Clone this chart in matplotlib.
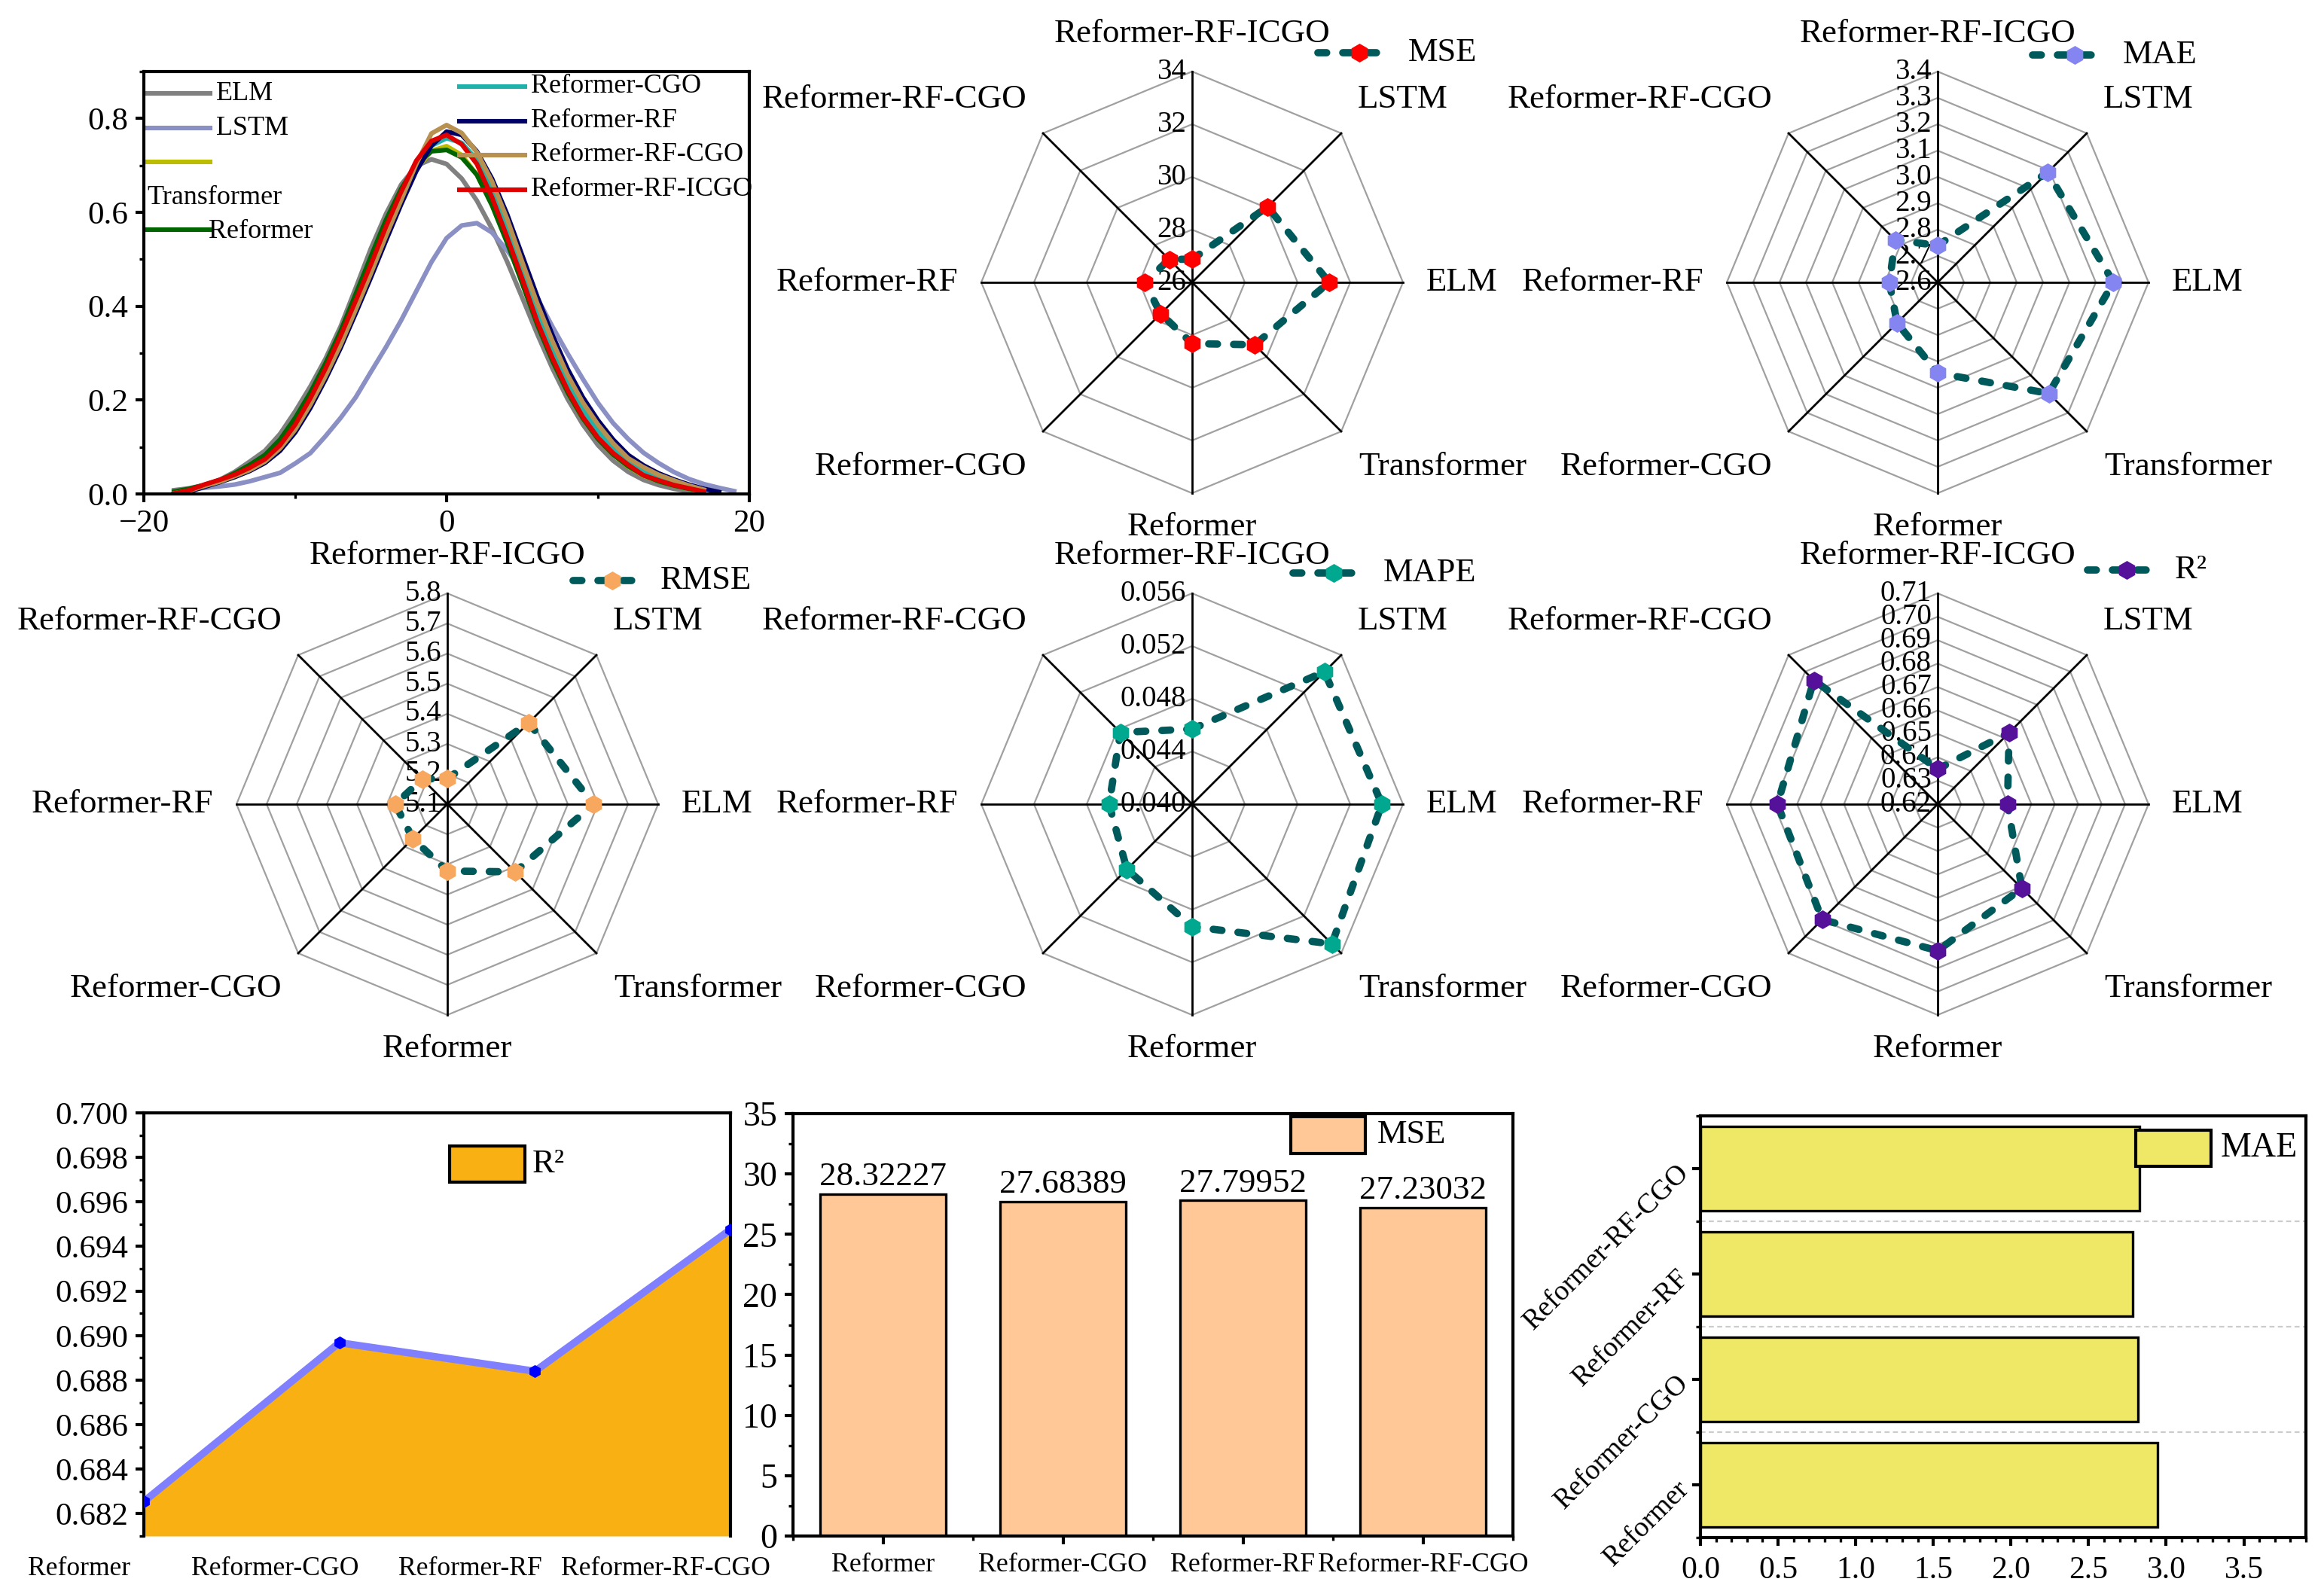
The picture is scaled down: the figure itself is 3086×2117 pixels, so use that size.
import numpy as np
import matplotlib.pyplot as plt
from matplotlib.patches import Rectangle
from matplotlib.ticker import MultipleLocator, FormatStrFormatter

plt.rcParams['font.family'] = ['Liberation Serif', 'DejaVu Serif']
plt.rcParams['axes.linewidth'] = 1.5

# ---------------- data ----------------
models = ['ELM', 'LSTM', 'Transformer', 'Reformer', 'Reformer-CGO',
          'Reformer-RF', 'Reformer-RF-CGO', 'Reformer-RF-ICGO']
# clockwise from the top of every radar
radar_order = ['Reformer-RF-ICGO', 'LSTM', 'ELM', 'Transformer',
               'Reformer', 'Reformer-CGO', 'Reformer-RF', 'Reformer-RF-CGO']
sub_models = ['Reformer', 'Reformer-CGO', 'Reformer-RF', 'Reformer-RF-CGO']

mse = [31.20, 30.05, 29.35, 28.32227, 27.68389, 27.79952, 27.23032, 26.88]
mae = [3.267, 3.190, 3.196, 2.944, 2.818, 2.783, 2.828, 2.740]
rmse = [5.586, 5.482, 5.418, 5.322, 5.262, 5.273, 5.218, 5.185]
mape = [0.0544, 0.0542, 0.0550, 0.0493, 0.0470, 0.0463, 0.0477, 0.0457]
r2 = [0.6498, 0.6631, 0.6708, 0.68255, 0.68968, 0.6884, 0.69476, 0.635]

# error density curves, x = -18 ... 19 (nan = curve ended)
nan = np.nan
err_x = list(range(-18, 20))
dens = {
    'ELM': [0.008, 0.012, 0.019, 0.030, 0.047, 0.069, 0.092, 0.128, 0.176, 0.229,
            0.288, 0.357, 0.439, 0.523, 0.597, 0.659, 0.699, 0.713, 0.703, 0.672,
            0.625, 0.565, 0.495, 0.418, 0.340, 0.267, 0.202, 0.148, 0.104, 0.071,
            0.047, 0.030, 0.019, 0.011, 0.006, 0.003, nan, nan],
    'LSTM': [0.005, 0.009, 0.013, 0.016, 0.020, 0.027, 0.036, 0.045, 0.065, 0.087,
             0.123, 0.162, 0.206, 0.260, 0.313, 0.370, 0.432, 0.494, 0.545, 0.572,
             0.577, 0.557, 0.519, 0.474, 0.417, 0.356, 0.299, 0.245, 0.194, 0.151,
             0.117, 0.088, 0.066, 0.047, 0.032, 0.021, 0.013, 0.006],
    'Transformer': [0.001, 0.006, 0.015, 0.025, 0.036, 0.050, 0.067, 0.094, 0.135, 0.188,
                    0.250, 0.318, 0.395, 0.472, 0.553, 0.628, 0.692, 0.731, 0.741, 0.722,
                    0.680, 0.615, 0.537, 0.450, 0.362, 0.284, 0.216, 0.161, 0.117, 0.084,
                    0.058, 0.039, 0.027, 0.018, 0.011, 0.006, nan, nan],
    'Reformer': [0.005, 0.011, 0.019, 0.029, 0.044, 0.062, 0.083, 0.116, 0.162, 0.216,
                 0.278, 0.347, 0.426, 0.506, 0.584, 0.650, 0.702, 0.730, 0.733, 0.717,
                 0.680, 0.615, 0.535, 0.448, 0.360, 0.283, 0.216, 0.161, 0.117, 0.084,
                 0.059, 0.040, 0.027, 0.018, 0.011, 0.006, nan, nan],
    'Reformer-CGO': [0.001, 0.007, 0.017, 0.026, 0.038, 0.051, 0.069, 0.097, 0.137, 0.190,
                     0.251, 0.318, 0.393, 0.470, 0.550, 0.626, 0.694, 0.742, 0.758, 0.748,
                     0.712, 0.650, 0.567, 0.477, 0.386, 0.307, 0.237, 0.180, 0.134, 0.098,
                     0.069, 0.049, 0.035, 0.024, 0.015, 0.008, nan, nan],
    'Reformer-RF': [0.000, 0.005, 0.015, 0.025, 0.036, 0.049, 0.066, 0.092, 0.131, 0.183,
                    0.244, 0.311, 0.385, 0.461, 0.540, 0.617, 0.688, 0.742, 0.772, 0.765,
                    0.730, 0.672, 0.596, 0.508, 0.420, 0.338, 0.266, 0.206, 0.157, 0.116,
                    0.083, 0.061, 0.044, 0.031, 0.020, 0.011, 0.004, nan],
    'Reformer-RF-CGO': [0.001, 0.007, 0.017, 0.026, 0.038, 0.051, 0.069, 0.097, 0.137, 0.190,
                        0.251, 0.318, 0.393, 0.470, 0.550, 0.626, 0.703, 0.768, 0.786, 0.769,
                        0.728, 0.666, 0.586, 0.494, 0.405, 0.325, 0.253, 0.195, 0.148, 0.108,
                        0.076, 0.057, 0.041, 0.029, 0.018, 0.009, nan, nan],
    'Reformer-RF-ICGO': [0.001, 0.008, 0.020, 0.030, 0.041, 0.056, 0.074, 0.104, 0.148, 0.204,
                         0.267, 0.337, 0.412, 0.489, 0.570, 0.644, 0.710, 0.752, 0.765, 0.745,
                         0.703, 0.632, 0.547, 0.458, 0.366, 0.289, 0.221, 0.164, 0.120, 0.087,
                         0.062, 0.040, 0.029, 0.019, 0.012, 0.005, nan, nan],
}
dens_colors = {'ELM': '#808080', 'LSTM': '#8a90c4', 'Transformer': '#bcbc00',
               'Reformer': '#006400', 'Reformer-CGO': '#20b2aa', 'Reformer-RF': '#000066',
               'Reformer-RF-CGO': '#b8904f', 'Reformer-RF-ICGO': '#e00000'}

W, H = 3086, 2117
fig = plt.figure(figsize=(W / 200, H / 200), dpi=200)


def px_axes(x0, y0, x1, y1):
    return fig.add_axes([x0 / W, 1 - y1 / H, (x1 - x0) / W, (y1 - y0) / H])


def box_ticks(ax, size):
    ax.tick_params(which='major', direction='out', length=4, width=1.5, labelsize=size)
    ax.tick_params(which='minor', direction='out', length=2, width=1.2)


# ---------------- density of errors ----------------
ax = px_axes(191, 95, 995, 656)
for m in models:
    ax.plot(err_x, dens[m], color=dens_colors[m], lw=2.2)
ax.set_xlim(-20, 20)
ax.set_ylim(0, 0.9)
ax.set_xticks([-20, 0, 20])
ax.xaxis.set_minor_locator(MultipleLocator(10))
ax.set_yticks([0, 0.2, 0.4, 0.6, 0.8])
ax.yaxis.set_minor_locator(MultipleLocator(0.1))
ax.yaxis.set_major_formatter(FormatStrFormatter('%.1f'))
box_ticks(ax, 15.5)

leg_left = [('ELM', 0.948, 0.119, 0.948), ('LSTM', 0.866, 0.119, 0.866),
            ('Transformer', 0.786, 0.006, 0.701), ('Reformer', 0.625, 0.107, 0.621)]
for name, ly, tx, ty in leg_left:
    ax.plot([0.002, 0.109], [ly, ly], color=dens_colors[name], lw=2.2, transform=ax.transAxes)
    ax.text(tx, ty, name, transform=ax.transAxes, fontsize=13, va='center', ha='left')
leg_right = [('Reformer-CGO', 0.965), ('Reformer-RF', 0.883),
             ('Reformer-RF-CGO', 0.803), ('Reformer-RF-ICGO', 0.721)]
for name, ly in leg_right:
    ax.plot([0.521, 0.629], [ly, ly], color=dens_colors[name], lw=2.2, transform=ax.transAxes)
    ax.text(0.639, ly, name, transform=ax.transAxes, fontsize=13, va='center', ha='left')

# ---------------- radar charts ----------------
R_PX = 280.0
teal = '#005a5b'
label_off = {'Reformer-RF-ICGO': (0, 330, 'center'), 'LSTM': (220, 243, 'left'),
             'ELM': (311, 0, 'left'), 'Transformer': (221, -245, 'left'),
             'Reformer': (0, -325, 'center'), 'Reformer-CGO': (-220, -245, 'right'),
             'Reformer-RF': (-311, 0, 'right'), 'Reformer-RF-CGO': (-220, 243, 'right')}


def radar(cx, cy, values, vmin, vmax, ticks, fmt, color, name, leg):
    half = 500
    rx = px_axes(cx - half, cy - half, cx + half, cy + half)
    lim = half / R_PX
    rx.set_xlim(-lim, lim)
    rx.set_ylim(-lim, lim)
    rx.axis('off')
    ang = np.deg2rad(np.arange(8) * 45.0)
    sx, sy = np.sin(ang), np.cos(ang)
    for t in ticks[1:]:
        f = (t - vmin) / (vmax - vmin)
        rx.plot(np.append(sx, sx[0]) * f, np.append(sy, sy[0]) * f,
                color='#a0a0a0', lw=0.8, zorder=1)
    for a, b in zip(sx, sy):
        rx.plot([0, a], [0, b], color='black', lw=1.0, zorder=2)
    for t in ticks:
        f = (t - vmin) / (vmax - vmin)
        rx.text(-8 / R_PX, f, fmt.format(t), ha='right', va='center', fontsize=14, zorder=2)
    vals = np.array([values[models.index(m)] for m in radar_order])
    f = (vals - vmin) / (vmax - vmin)
    px, py = f * sx, f * sy
    rx.plot(np.append(px, px[0]), np.append(py, py[0]), color=teal, lw=3.5,
            ls=(0, (1.2, 2.2)), dash_capstyle='round', zorder=3)
    rx.plot(px, py, 'h', ms=9, color=color, mec=color, mew=0, zorder=4)
    for m in radar_order:
        dx, dy, ha = label_off[m]
        rx.text(dx / R_PX, dy / R_PX, m, ha=ha, va='center', fontsize=16.2)
    x0, x1, xm, up, xt = leg
    rx.plot([x0 / R_PX, x1 / R_PX], [up / R_PX, up / R_PX], color=teal, lw=3.5,
            ls=(0, (1.2, 2.2)), dash_capstyle='round')
    rx.plot([xm / R_PX], [up / R_PX], 'h', ms=9, color=color, mew=0)
    rx.text(xt / R_PX, up / R_PX, name, ha='left', va='center', fontsize=16)


radar(1583, 375, mse, 26, 34, [26, 28, 30, 32, 34], '{:.0f}', '#ff0000', 'MSE',
      (167, 255, 222, 305, 287))
radar(2573, 375, mae, 2.6, 3.4, [2.6, 2.7, 2.8, 2.9, 3.0, 3.1, 3.2, 3.3, 3.4], '{:.1f}',
      '#8585f2', 'MAE', (126, 213, 182, 302, 246))
radar(594, 1068, rmse, 5.1, 5.8, [5.1, 5.2, 5.3, 5.4, 5.5, 5.6, 5.7, 5.8], '{:.1f}',
      '#f8a75e', 'RMSE', (167, 248, 219, 297, 283))
radar(1583, 1068, mape, 0.040, 0.056, [0.040, 0.044, 0.048, 0.052, 0.056], '{:.3f}',
      '#00a88f', 'MAPE', (134, 218, 188, 307, 254))
radar(2573, 1068, r2, 0.62, 0.71,
      [0.62, 0.63, 0.64, 0.65, 0.66, 0.67, 0.68, 0.69, 0.70, 0.71], '{:.2f}',
      '#56119a', 'R²', (199, 280, 251, 311, 315))

# ---------------- R2 area ----------------
ax4 = px_axes(191, 1478, 970, 2040)
xi = np.arange(len(sub_models))
r2_sub = [r2[models.index(m)] for m in sub_models]
ax4.fill_between(xi, r2_sub, 0.681, color='#f8b012', lw=0)
ax4.plot(xi, r2_sub, color='#8080ff', lw=3.5, zorder=3)
ax4.plot(xi, r2_sub, 'h', color='#0000ff', ms=5, zorder=4)
ax4.set_xlim(0, 3)
ax4.set_ylim(0.681, 0.700)
ax4.set_xticks([])
ax4.spines['bottom'].set_visible(False)
ax4.yaxis.set_major_locator(MultipleLocator(0.002))
ax4.yaxis.set_minor_locator(MultipleLocator(0.001))
ax4.yaxis.set_major_formatter(FormatStrFormatter('%.3f'))
box_ticks(ax4, 15.5)
for i, m in enumerate(sub_models):
    ax4.text(i - 0.33, -0.077, m, transform=ax4.get_xaxis_transform(),
             ha='center', va='center', fontsize=12.8)
ax4.add_patch(Rectangle((0.5215, 0.836), 0.1275, 0.086, transform=ax4.transAxes,
                        facecolor='#f8b012', edgecolor='black', lw=1.5))
ax4.text(0.662, 0.879, 'R²', transform=ax4.transAxes, ha='left', va='center', fontsize=16)

# ---------------- MSE bars ----------------
ax5 = px_axes(1053, 1479, 2009, 2040)
mse_sub = [mse[models.index(m)] for m in sub_models]
bars = ax5.bar(xi, mse_sub, width=0.7, color='#ffc896', edgecolor='black', lw=1.2)
for b, v in zip(bars, mse_sub):
    ax5.annotate('{:.5f}'.format(v), (b.get_x() + b.get_width() / 2, v),
                 xytext=(0, 1), textcoords='offset points', ha='center', va='bottom',
                 fontsize=16.2)
ax5.set_xlim(-0.5, 3.5)
ax5.set_ylim(0, 35)
ax5.set_xticks(xi)
ax5.set_xticklabels(sub_models, fontsize=12.9)
ax5.set_xticks([-0.5, 0.5, 1.5, 2.5, 3.5], minor=True)
ax5.yaxis.set_major_locator(MultipleLocator(5))
ax5.yaxis.set_minor_locator(MultipleLocator(2.5))
box_ticks(ax5, 16.5)
ax5.tick_params(axis='x', labelsize=12.9, pad=4)
ax5.add_patch(Rectangle((0.691, 0.906), 0.104, 0.087, transform=ax5.transAxes,
                        facecolor='#ffc896', edgecolor='black', lw=1.5))
ax5.text(0.811, 0.95, 'MSE', transform=ax5.transAxes, ha='left', va='center', fontsize=16)

# ---------------- MAE bars ----------------
ax6 = px_axes(2258, 1482, 3062, 2042)
mae_sub = [mae[models.index(m)] for m in sub_models]
ax6.barh(xi, mae_sub, height=0.8, color='#efe766', edgecolor='black', lw=1.2, zorder=2)
for yb in [0.5, 1.5, 2.5]:
    ax6.axhline(yb, color='#cccccc', lw=0.8, ls=(0, (3, 2)), zorder=1)
ax6.set_xlim(0, 3.9)
ax6.set_ylim(-0.5, 3.5)
ax6.xaxis.set_major_locator(MultipleLocator(0.5))
ax6.xaxis.set_minor_locator(MultipleLocator(0.1))
ax6.xaxis.set_major_formatter(FormatStrFormatter('%.1f'))
ax6.set_yticks(xi)
ax6.set_yticks([-0.5, 0.5, 1.5, 2.5, 3.5], minor=True)
box_ticks(ax6, 15)
ax6.tick_params(axis='x', pad=5)
ax6.set_yticklabels(sub_models, fontsize=13.6, rotation=45, rotation_mode='anchor',
                    ha='right', va='center')
ax6.add_patch(Rectangle((0.719, 0.880), 0.124, 0.086, transform=ax6.transAxes,
                        facecolor='#efe766', edgecolor='black', lw=1.5, zorder=3))
ax6.text(0.859, 0.923, 'MAE', transform=ax6.transAxes, ha='left', va='center', fontsize=16.5)

fig.savefig('out.png', dpi=200)
